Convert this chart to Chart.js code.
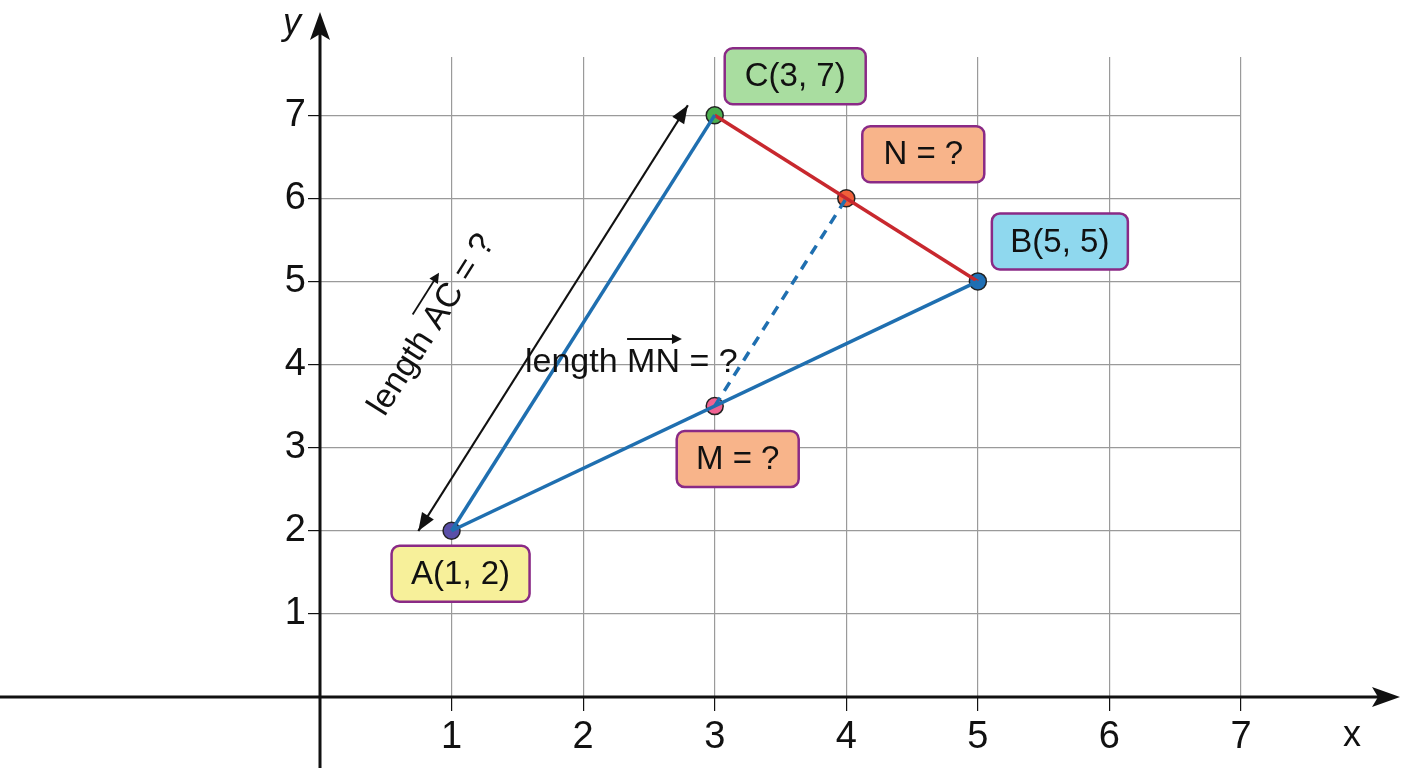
<!DOCTYPE html>
<html><head><meta charset="utf-8">
<script src="https://cdn.jsdelivr.net/npm/chart.js@4/dist/chart.umd.min.js"></script>
<style>html,body{margin:0;background:#fff}#w{width:1408px;height:768px}</style>
</head><body><div id="w"><canvas id="c"></canvas></div>
<script>
const tickValues=[1,2,3,4,5,6,7];
const pointNames=['A','B','C','M','N'];
const pointX=[1,5,3,3,4];
const pointY=[2,5,7,3.5,6];
const pointColors=['#5a4fa8','#1f6fb5','#4caf50','#f06292','#f0603a'];
const labelTexts=['A(1, 2)','B(5, 5)','C(3, 7)','M = ?','N = ?'];
const labelFills=['#f7f09a','#8fd8ee','#a9dda0','#f8b48a','#f8b48a'];
const P=i=>({x:pointX[i],y:pointY[i]});
const blue='#1f6fb0', red='#c8282e';
const F='"Liberation Sans", Arial';

const overlay={id:'overlay',
 afterDraw(ch){
  const c=ch.ctx,xs=ch.scales.x,ys=ch.scales.y;
  const px=i=>[xs.getPixelForValue(pointX[i]),ys.getPixelForValue(pointY[i])];
  const ox=xs.getPixelForValue(0), oy=ys.getPixelForValue(0);
  c.save();
  c.strokeStyle='#111';c.fillStyle='#111';c.lineWidth=3;
  c.beginPath();c.moveTo(0,oy);c.lineTo(1385,oy);c.stroke();
  c.beginPath();c.moveTo(1400,oy);c.lineTo(1372,oy-10);c.lineTo(1378,oy);c.lineTo(1372,oy+10);c.closePath();c.fill();
  c.beginPath();c.moveTo(ox,768);c.lineTo(ox,25);c.stroke();
  c.beginPath();c.moveTo(ox,12);c.lineTo(ox-10,40);c.lineTo(ox,34);c.lineTo(ox+10,40);c.closePath();c.fill();
  c.font='italic 36px '+F;c.textAlign='center';c.textBaseline='middle';
  c.fillText('y',292,24);c.font='36px '+F;c.fillText('x',1352,736);
  const [ax,ay]=px(0),[cx,cy]=px(2);
  let dx=cx-ax,dy=cy-ay,L=Math.hypot(dx,dy);dx/=L;dy/=L;
  let nx=dy,ny=-dx; if(nx>0){nx=-nx;ny=-ny;}
  const S=[ax+nx*28-dx*18, ay+ny*28-dy*18];
  const E=[cx+nx*28-dx*6, cy+ny*28-dy*6];
  c.lineWidth=2.2;
  c.beginPath();c.moveTo(S[0],S[1]);c.lineTo(E[0],E[1]);c.stroke();
  const head=(p,d)=>{c.beginPath();c.moveTo(p[0],p[1]);
    c.lineTo(p[0]-d[0]*18+d[1]*7,p[1]-d[1]*18-d[0]*7);
    c.lineTo(p[0]-d[0]*18-d[1]*7,p[1]-d[1]*18+d[0]*7);c.closePath();c.fill();};
  head(E,[dx,dy]);head(S,[-dx,-dy]);
  c.save();c.translate(432,325);c.rotate(Math.atan2(dy,dx));
  c.font='34px '+F;c.textAlign='center';c.textBaseline='middle';
  c.fillText('length AC = ?',0,0);
  const w1=c.measureText('length ').width, wtot=c.measureText('length AC = ?').width, wAC=c.measureText('AC').width;
  const x0=-wtot/2+w1;
  c.lineWidth=1.8;c.beginPath();c.moveTo(x0,-22);c.lineTo(x0+wAC,-22);c.stroke();
  c.beginPath();c.moveTo(x0+wAC+2,-22);c.lineTo(x0+wAC-8,-27);c.lineTo(x0+wAC-8,-17);c.closePath();c.fill();
  c.restore();
  c.font='34px '+F;c.textAlign='left';c.textBaseline='middle';
  const tx=525,ty=363;c.fillText('length MN = ?',tx,ty);
  const a1=c.measureText('length ').width,aMN=c.measureText('MN').width;
  c.lineWidth=1.8;c.beginPath();c.moveTo(tx+a1,ty-24);c.lineTo(tx+a1+aMN,ty-24);c.stroke();
  c.beginPath();c.moveTo(tx+a1+aMN+2,ty-24);c.lineTo(tx+a1+aMN-8,ty-29);c.lineTo(tx+a1+aMN-8,ty-19);c.closePath();c.fill();
  const offs=[[-60,15],[14,-68],[10,-67],[-38,25],[16,-72]];
  const ws=[138,136,141,122,122];
  for(let i=0;i<5;i++){
    const [x,y]=px(i);const bx=x+offs[i][0],by=y+offs[i][1],bw=ws[i],bh=56;
    c.beginPath();c.roundRect(bx,by,bw,bh,8);c.fillStyle=labelFills[i];c.fill();
    c.lineWidth=2.5;c.strokeStyle='#8a2a86';c.stroke();
    c.fillStyle='#111';c.font='33px '+F;c.textAlign='center';c.textBaseline='middle';
    c.fillText(labelTexts[i],bx+bw/2,by+bh/2+1);
  }
  c.restore();
 }};

new Chart(document.getElementById('c'),{type:'scatter',
 data:{datasets:[
  {data:[P(0),P(2)],showLine:true,borderColor:blue,borderWidth:3.5,pointRadius:0},
  {data:[P(0),P(1)],showLine:true,borderColor:blue,borderWidth:3.5,pointRadius:0},
  {data:[P(2),P(1)],showLine:true,borderColor:red,borderWidth:3.5,pointRadius:0},
  {data:[P(3),P(4)],showLine:true,borderColor:blue,borderWidth:3.5,borderDash:[10,8],pointRadius:0},
  {data:pointNames.map((n,i)=>P(i)),showLine:false,pointRadius:8.5,pointBackgroundColor:pointColors,pointBorderColor:'#222',pointBorderWidth:1.5}
 ]},
 options:{responsive:true,maintainAspectRatio:false,animation:false,
  layout:{padding:{top:57,right:167,left:0,bottom:0}},
  plugins:{legend:{display:false},tooltip:{enabled:false}},
  scales:{
   x:{type:'linear',min:0,max:7,border:{display:false},
      afterBuildTicks:s=>{s.ticks=tickValues.map(v=>({value:v}))},
      afterFit:s=>{s.height=71},
      grid:{color:'#9a9a9a',lineWidth:1.2,drawTicks:true,tickLength:14,tickColor:'#111'},
      ticks:{color:'#111',font:{size:38,family:F},padding:4}},
   y:{type:'linear',min:0,max:7.7,border:{display:false},
      afterBuildTicks:s=>{s.ticks=tickValues.map(v=>({value:v}))},
      afterFit:s=>{s.width=320},
      grid:{color:'#9a9a9a',lineWidth:1.2,tickLength:12,tickColor:'#111'},
      ticks:{color:'#111',font:{size:38,family:F},padding:2}}
  }},
 plugins:[overlay]});
</script></body></html>
